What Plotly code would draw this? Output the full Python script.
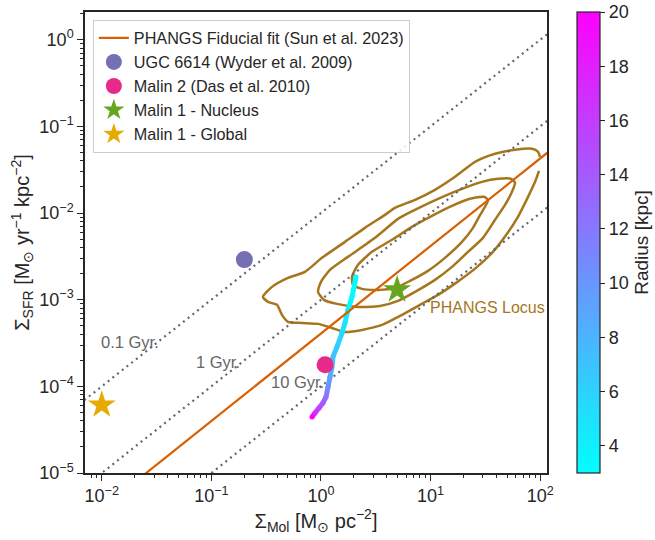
import numpy as np
import plotly.graph_objects as go

# ---------------- data ----------------
# PHANGS fiducial fit (Sun et al. 2023): log SFR = slope * log Mol + intercept
fit_slope = 1.01
fit_intercept = -3.39

# depletion-time guide lines
tdep_gyr = [0.1, 1.0, 10.0]
tdep_labels = ["0.1 Gyr.", "1 Gyr.", "10 Gyr."]
tdep_label_logx = [-1.74, -0.94, -0.21]
tdep_label_logy = [-3.49, -3.72, -3.95]

# single objects
ugc_x, ugc_y = [0.20], [2.9e-3]
malin2_x, malin2_y = [1.09], [1.77e-4]
malin1_nuc_x, malin1_nuc_y = [4.95], [1.30e-3]
malin1_glob_x, malin1_glob_y = [0.0100], [6.1e-5]

# Malin 1 radial profile (log10 values) and radius [kpc]
radial_logmol = [0.319, 0.283, 0.246, 0.219, 0.192, 0.146, 0.109, 0.100,
                 0.082, 0.064, 0.046, 0.018, -0.018, -0.055, -0.082]
radial_logsfr = [-2.737, -2.968, -3.118, -3.268, -3.383, -3.545, -3.660, -3.776,
                 -3.891, -4.007, -4.122, -4.192, -4.249, -4.307, -4.353]
radial_radius = [3.0, 3.5, 4.0, 4.8, 5.5, 6.5, 7.3, 8.0,
                 9.0, 10.5, 12.5, 14.0, 15.5, 17.5, 20.0]

# PHANGS locus density contours (log10 values)
outer_logmol = [1.998, 1.980, 1.925, 1.770, 1.588, 1.405, 1.223, 1.040, 0.858, 0.675,
                0.584, 0.401, 0.219, 0.009, -0.146, -0.301, -0.447, -0.529, -0.484,
                -0.401, -0.356, -0.301, -0.173, -0.027, 0.100, 0.219, 0.374, 0.557,
                0.721, 0.903, 1.068, 1.232, 1.414, 1.569, 1.697, 1.797, 1.889, 1.953, 1.989]
outer_logsfr = [-1.351, -1.293, -1.259, -1.270, -1.316, -1.409, -1.582, -1.732, -1.848, -1.940,
                -2.021, -2.171, -2.333, -2.517, -2.679, -2.748, -2.852, -2.968, -3.025,
                -3.060, -3.175, -3.256, -3.268, -3.279, -3.326, -3.372, -3.349, -3.291,
                -3.187, -3.060, -2.944, -2.806, -2.633, -2.448, -2.240, -2.044, -1.813, -1.640, -1.513]

middle_logmol = [1.770, 1.734, 1.615, 1.469, 1.286, 1.068, 0.839, 0.703, 0.493, 0.246,
                 0.082, 0.000, -0.027, 0.027, 0.146, 0.338, 0.538, 0.703, 0.858, 1.040,
                 1.195, 1.341, 1.478, 1.588, 1.679, 1.734, 1.770]
middle_logsfr = [-1.651, -1.605, -1.605, -1.640, -1.721, -1.836, -1.975, -2.067, -2.286, -2.506,
                 -2.656, -2.794, -2.910, -3.002, -3.048, -3.083, -3.072, -3.014, -2.910, -2.771,
                 -2.621, -2.448, -2.286, -2.078, -1.905, -1.778, -1.651]

inner_logmol = [1.524, 1.487, 1.359, 1.195, 0.995, 0.830, 0.648, 0.465, 0.338, 0.283,
                0.292, 0.374, 0.520, 0.675, 0.812, 0.976, 1.131, 1.286, 1.387, 1.442,
                1.496, 1.524]
inner_logsfr = [-1.848, -1.813, -1.836, -1.917, -2.044, -2.159, -2.309, -2.448, -2.598, -2.737,
                -2.829, -2.875, -2.887, -2.864, -2.783, -2.667, -2.517, -2.333, -2.171, -2.044,
                -1.928, -1.848]

x_tick_powers = [-2, -1, 0, 1, 2]
y_tick_powers = [-5, -4, -3, -2, -1, 0]
cbar_ticks = [4, 6, 8, 10, 12, 14, 16, 18, 20]
radius_min, radius_max = 3, 20

# ---------------- styling ----------------
FONT = "Liberation Sans, Arial, sans-serif"
C_FIT = "#d95f02"
C_UGC = "#7570b3"
C_MALIN2 = "#e7298a"
C_NUC = "#66a61e"
C_GLOB = "#e6ab02"
C_LOCUS = "#a6761d"
C_GUIDE = "#666666"
C_TXT = "#262626"

xrange_log = [-2.153, 2.062]
yrange_log = [-5.0, 0.32]


def cool(v):
    r = (v - radius_min) / (radius_max - radius_min)
    r = min(max(r, 0), 1)
    return "rgb(%d,%d,255)" % (round(255 * r), round(255 * (1 - r)))


fig = go.Figure()

# contours
for lm, ls in [(outer_logmol, outer_logsfr), (middle_logmol, middle_logsfr),
               (inner_logmol, inner_logsfr)]:
    fig.add_trace(go.Scatter(x=10 ** np.array(lm), y=10 ** np.array(ls), mode="lines",
                             line=dict(color=C_LOCUS, width=2.5, shape="spline", smoothing=0.6),
                             showlegend=False, hoverinfo="skip"))

# depletion time lines
xs = np.logspace(xrange_log[0] - 0.05, xrange_log[1] + 0.05, 50)
for t in tdep_gyr:
    fig.add_trace(go.Scatter(x=xs, y=xs / (t * 1e3), mode="lines",
                             line=dict(color=C_GUIDE, width=2.2, dash="2px,4px"),
                             showlegend=False, hoverinfo="skip"))

# radial profile (gradient line)
rx = 10 ** np.array(radial_logmol)
ry = 10 ** np.array(radial_logsfr)
for i in range(len(rx) - 1):
    fig.add_trace(go.Scatter(x=rx[i:i + 2], y=ry[i:i + 2], mode="lines",
                             line=dict(color=cool(0.5 * (radial_radius[i] + radial_radius[i + 1])),
                                       width=5),
                             showlegend=False, hoverinfo="skip"))
fig.add_trace(go.Scatter(x=rx, y=ry, mode="markers",
                         marker=dict(size=5, color=radial_radius,
                                     cmin=radius_min, cmax=radius_max,
                                     colorscale=[[0, "rgb(0,255,255)"], [1, "rgb(255,0,255)"]],
                                     showscale=True,
                                     colorbar=dict(x=1.065, xanchor="left", xpad=0,
                                                   y=0.5, yanchor="middle", ypad=0,
                                                   len=1.0, lenmode="fraction", thickness=23,
                                                   outlinewidth=1.2, outlinecolor=C_TXT,
                                                   tickvals=cbar_ticks, ticks="outside", ticklen=5,
                                                   tickcolor=C_TXT, ticklabeloverflow="allow",
                                                   tickfont=dict(size=18, color=C_TXT, family=FONT),
                                                   title=dict(text="Radius [kpc]", side="right",
                                                              font=dict(size=19, color=C_TXT,
                                                                        family=FONT)))),
                         showlegend=False, hoverinfo="skip"))

# fit line
fx = np.logspace(xrange_log[0] - 0.05, xrange_log[1] + 0.05, 50)
fig.add_trace(go.Scatter(x=fx, y=10 ** (fit_intercept + fit_slope * np.log10(fx)), mode="lines",
                         line=dict(color=C_FIT, width=2.2),
                         name="PHANGS Fiducial fit (Sun et al. 2023)"))

fig.add_trace(go.Scatter(x=ugc_x, y=ugc_y, mode="markers",
                         marker=dict(size=17, color=C_UGC, symbol="circle"),
                         name="UGC 6614 (Wyder et al. 2009)"))
fig.add_trace(go.Scatter(x=malin2_x, y=malin2_y, mode="markers",
                         marker=dict(size=17, color=C_MALIN2, symbol="circle"),
                         name="Malin 2 (Das et al. 2010)"))
fig.add_trace(go.Scatter(x=malin1_nuc_x, y=malin1_nuc_y, mode="markers",
                         marker=dict(size=21, color=C_NUC, symbol="star"),
                         name="Malin 1 - Nucleus"))
fig.add_trace(go.Scatter(x=malin1_glob_x, y=malin1_glob_y, mode="markers",
                         marker=dict(size=21, color=C_GLOB, symbol="star"),
                         name="Malin 1 - Global"))

# annotations
for txt, lx, ly in zip(tdep_labels, tdep_label_logx, tdep_label_logy):
    fig.add_annotation(x=lx, y=ly, text=txt, showarrow=False, xanchor="center", yanchor="middle",
                       font=dict(size=16.5, color=C_GUIDE, family=FONT))
fig.add_annotation(x=1.515, y=-3.095, text="PHANGS Locus", showarrow=False,
                   xanchor="center", yanchor="middle",
                   font=dict(size=16, color=C_LOCUS, family=FONT))


def minor_vals(lo, hi):
    out = []
    for k in range(int(np.floor(lo)), int(np.ceil(hi)) + 1):
        for m in range(2, 10):
            v = m * 10.0 ** k
            if lo <= np.log10(v) <= hi:
                out.append(v)
    return out


axis_common = dict(type="log", showgrid=False, zeroline=False, showline=True, linecolor=C_TXT,
                   linewidth=1.5, mirror=True, ticks="outside", ticklen=6, tickwidth=1.3,
                   tickcolor=C_TXT, tickfont=dict(size=18, color=C_TXT, family=FONT))

fig.update_xaxes(range=xrange_log,
                 tickvals=[10.0 ** p for p in x_tick_powers],
                 ticktext=["10<sup>%s</sup>" % (str(p).replace("-", "−")) for p in x_tick_powers],
                 minor=dict(tickvals=minor_vals(*xrange_log), ticks="outside", ticklen=3.5,
                            tickwidth=1, tickcolor=C_TXT, showgrid=False),
                 title=dict(text="Σ<sub>Mol</sub> [M<sub>⊙</sub> pc<sup>−2</sup>]",
                            font=dict(size=20, color=C_TXT, family=FONT), standoff=6),
                 **axis_common)
fig.update_yaxes(range=yrange_log,
                 tickvals=[10.0 ** p for p in y_tick_powers],
                 ticktext=["10<sup>%s</sup>" % (str(p).replace("-", "−")) for p in y_tick_powers],
                 minor=dict(tickvals=minor_vals(*yrange_log), ticks="outside", ticklen=3.5,
                            tickwidth=1, tickcolor=C_TXT, showgrid=False),
                 title=dict(text="Σ<sub>SFR</sub> [M<sub>⊙</sub> yr<sup>−1</sup> kpc<sup>−2</sup>]",
                            font=dict(size=20, color=C_TXT, family=FONT), standoff=4),
                 **axis_common)

# full-window figure; the page's default body margin is removed after plotting
fig.update_layout(width=655, height=540,
                  margin=dict(l=85, r=108, t=12, b=67, autoexpand=False),
                  paper_bgcolor="white", plot_bgcolor="white",
                  font=dict(family=FONT, color=C_TXT),
                  legend=dict(x=0.017, y=0.983, xanchor="left", yanchor="top",
                              bgcolor="rgba(255,255,255,0.85)", bordercolor="#cccccc",
                              borderwidth=1, font=dict(size=16.2, color=C_TXT, family=FONT),
                              tracegroupgap=0, itemsizing="trace"),
                  showlegend=True)

fig.write_html("out.html", config={"displayModeBar": False},
               post_script="document.body.style.margin='0px';")
